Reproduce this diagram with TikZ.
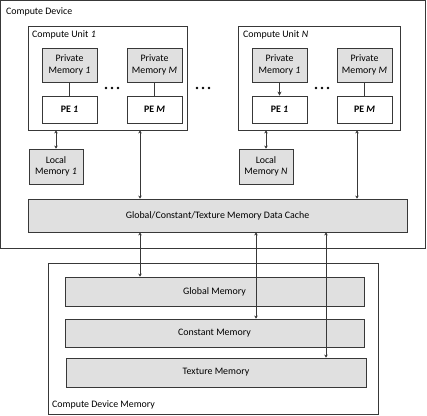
\documentclass[tikz,border=0pt]{standalone}
\usepackage{fontspec}
\setmainfont{Carlito}
\usetikzlibrary{arrows.meta,calc}
\definecolor{boxfill}{HTML}{E0E0E0}
\definecolor{lin}{HTML}{383838}
\begin{document}
\begin{tikzpicture}[x=1pt,y=-1pt,
  every node/.style={inner sep=0pt, font=\fontsize{9.9}{11.5}\selectfont},
  frame/.style={draw=lin, line width=0.8pt, fill=white},
  gbox/.style={draw=lin, line width=0.8pt, fill=boxfill, align=center},
  wbox/.style={draw=lin, line width=0.8pt, fill=white, align=center, font=\fontsize{9.9}{11.5}\selectfont\bfseries},
  lbl/.style={anchor=west},
  dbl/.style={lin, line width=0.7pt, {Stealth[length=3pt,width=3.5pt]}-{Stealth[length=3pt,width=3.5pt]}},
  one/.style={lin, line width=0.7pt, -{Stealth[length=4pt,width=4pt]}},
  plain/.style={lin, line width=0.7pt},
  dot/.style={circle, fill=black, minimum size=2.6pt}
]
\useasboundingbox (0,0) rectangle (427,415);
\fill[white] (0,0) rectangle (427,415);

% Compute device
\node[frame, minimum width=425pt, minimum height=248pt] (CD) at (213.3,124.8) {};
\node[lbl] (CDl) at (6,12) {Compute Device};

% Compute unit 1
\node[frame, minimum width=159pt, minimum height=104pt] (CU1) at (107.5,78) {};
\node[lbl] (CU1l) at (32,35) {Compute Unit \textit{1}};
\node[gbox, minimum width=55pt, minimum height=34pt] (PM1a) at (69.5,65) {Private\\Memory \textit{1}};
\node[wbox, minimum width=55pt, minimum height=27pt] (PE1a) at (69.5,109.5) {PE \textit{1}};
\node[gbox, minimum width=55pt, minimum height=34pt] (PMMa) at (154.5,65) {Private\\Memory \textit{M}};
\node[wbox, minimum width=55pt, minimum height=27pt] (PEMa) at (154.5,109.5) {PE \textit{M}};
\draw[plain] (PM1a) -- (PE1a);
\draw[plain] (PMMa) -- (PEMa);
\node[dot] (d1) at (106,88) {};
\node[dot] (d2) at (112,88) {};
\node[dot] (d3) at (118,88) {};

% dots between units
\node[dot] (d4) at (197,88) {};
\node[dot] (d5) at (203,88) {};
\node[dot] (d6) at (209,88) {};

% Compute unit N
\node[frame, minimum width=162pt, minimum height=104pt] (CUN) at (319.5,78) {};
\node[lbl] (CUNl) at (243,35) {Compute Unit \textit{N}};
\node[gbox, minimum width=55pt, minimum height=34pt] (PM1b) at (279.5,65) {Private\\Memory \textit{1}};
\node[wbox, minimum width=55pt, minimum height=27pt] (PE1b) at (279.5,109.5) {PE \textit{1}};
\node[gbox, minimum width=55pt, minimum height=34pt] (PMMb) at (364.5,65) {Private\\Memory \textit{M}};
\node[wbox, minimum width=55pt, minimum height=27pt] (PEMb) at (364.5,109.5) {PE \textit{M}};
\draw[one] (PM1b) -- (PE1b);
\draw[plain] (PMMb) -- (PEMb);
\node[dot] (d7) at (316,88) {};
\node[dot] (d8) at (322,88) {};
\node[dot] (d9) at (328,88) {};

% local memories
\node[gbox, minimum width=54pt, minimum height=35pt] (LM1) at (56,166.5) {Local\\Memory \textit{1}};
\node[gbox, minimum width=54pt, minimum height=35pt] (LMN) at (266,166.5) {Local\\Memory \textit{N}};
\draw[dbl] (CU1.south -| LM1) -- (LM1.north);
\draw[dbl] (CUN.south -| LMN) -- (LMN.north);

% cache
\node[gbox, minimum width=379pt, minimum height=33pt] (C) at (217.5,215.5) {Global/Constant/Texture Memory Data Cache};
\coordinate (xa) at (140,0);
\coordinate (xb) at (357,0);
\coordinate (xc) at (256,0);
\coordinate (xd) at (326,0);
\draw[dbl] (CU1.south -| xa) -- (C.north -| xa);
\draw[dbl] (CUN.south -| xb) -- (C.north -| xb);

% compute device memory
\node[frame, minimum width=330pt, minimum height=151pt] (CDM) at (213,338.5) {};
\node[lbl] (CDMl) at (52,405) {Compute Device Memory};
\node[gbox, minimum width=299pt, minimum height=29pt] (GM) at (214.5,291.5) {Global Memory};
\node[gbox, minimum width=299pt, minimum height=28pt] (CM) at (214.5,333) {Constant Memory};
\node[gbox, minimum width=300pt, minimum height=29pt] (TM) at (216,372.5) {Texture Memory};
\draw[dbl] (C.south -| xa) -- (GM.north -| xa);
\draw[dbl] (C.south -| xc) -- (CM.north -| xc);
\draw[dbl] (C.south -| xd) -- (TM.north -| xd);
\end{tikzpicture}
\end{document}
